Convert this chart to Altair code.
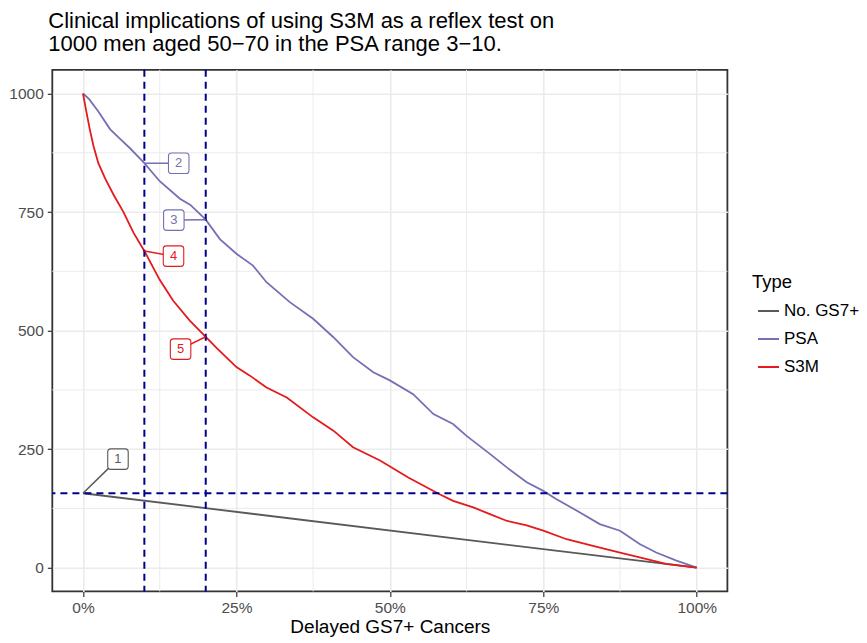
import altair as alt
import pandas as pd

# ---- data ----
types = ["No. GS7+", "PSA", "S3M"]
type_colors = ["#595959", "#7570B3", "#E41A1C"]

gs7_pct = [0, 100]
gs7_n = [157, 0]

psa_pct = [0, 1, 2.5, 4.4, 6, 7.7, 10, 12.5, 15.8, 17.5, 20, 22.3, 25, 27.7, 29.9, 33.7,
           37.5, 40.8, 44, 47.3, 50, 53.8, 57.1, 60.3, 62.5, 66.3, 69, 72.3, 75, 77.1,
           80.9, 84.2, 87.5, 90.7, 93.4, 96.7, 100]
psa_n = [1000, 988, 962, 925, 905, 884, 853, 815, 778, 765, 734, 693, 662, 637, 602, 560,
         525, 486, 444, 412, 395, 366, 324, 303, 278, 240, 212, 180, 162, 145,
         117, 92, 78, 50, 32, 15, 0]

s3m_pct = [0, 0.5, 1.1, 1.7, 2.5, 3.6, 5, 6.6, 8.2, 10, 12.5, 14.7, 17.4, 20, 21.8, 25, 27.2,
           29.9, 33.2, 37.5, 40.8, 44, 48.4, 53, 58.1, 60.3, 63.6, 66.3, 69, 72.3, 75,
           78.8, 83.1, 87.5, 90.7, 95, 100]
s3m_n = [1000, 965, 925, 890, 853, 821, 786, 750, 707, 668, 607, 563, 521, 487, 463, 423, 405,
         380, 359, 317, 289, 254, 226, 190, 155, 141, 127, 113, 99, 89, 78,
         60, 46, 32, 22, 8, 0]

vline_pct = [10, 20]
hline_n = [157]

x_ticks = [0, 25, 50, 75, 100]
y_ticks = [0, 250, 500, 750, 1000]
x_minor = [12.5, 37.5, 62.5, 87.5]
y_minor = [125, 375, 625, 875]

lab_text = ["1", "2", "3", "4", "5"]
lab_type = ["No. GS7+", "PSA", "PSA", "S3M", "S3M"]
lab_pt_pct = [0, 10, 20, 10, 20]
lab_pt_n = [157, 853, 734, 668, 487]
lab_pct = [5.7, 15.6, 14.8, 14.75, 15.9]
lab_n = [229, 853, 733, 657, 461]

title_lines = ["Clinical implications of using S3M as a reflex test on",
               "1000 men aged 50\u221270 in the PSA range 3\u221210."]

FONT = "Liberation Sans"

# ---- tables ----
rows = []
for t, xs_, ys_ in [("No. GS7+", gs7_pct, gs7_n), ("PSA", psa_pct, psa_n), ("S3M", s3m_pct, s3m_n)]:
    for a, b in zip(xs_, ys_):
        rows.append({"pct": a, "n": b, "Type": t})
lines_df = pd.DataFrame(rows)

labels_df = pd.DataFrame({
    "text": lab_text, "Type": lab_type,
    "px": lab_pt_pct, "py": lab_pt_n, "lx": lab_pct, "ly": lab_n,
})

xs = alt.Scale(domain=[-5, 105], nice=False, zero=False)
ys = alt.Scale(domain=[-50, 1050], nice=False, zero=False)
x_axis = alt.Axis(values=x_ticks, labelExpr="datum.value + '%'", title="Delayed GS7+ Cancers")
y_axis = alt.Axis(values=y_ticks, format="d", title=None)

def X(f):
    return alt.X(f, type="quantitative", scale=xs, axis=x_axis)

def Y(f):
    return alt.Y(f, type="quantitative", scale=ys, axis=y_axis)

minor_x = alt.Chart(pd.DataFrame({"pct": x_minor})).mark_rule(
    color="#EBEBEB", strokeWidth=1.0).encode(x=X("pct"))
minor_y = alt.Chart(pd.DataFrame({"n": y_minor})).mark_rule(
    color="#EBEBEB", strokeWidth=1.0).encode(y=Y("n"))

lines = alt.Chart(lines_df).mark_line(strokeWidth=1.8).encode(
    x=X("pct"), y=Y("n"),
    color=alt.Color("Type:N", scale=alt.Scale(domain=types, range=type_colors),
                    legend=alt.Legend(title="Type", orient="none", legendX=699.7, legendY=202.8)),
)

vlines = alt.Chart(pd.DataFrame({"pct": vline_pct})).mark_rule(
    color="#00008B", strokeWidth=2, strokeDash=[7, 5]).encode(x=X("pct"))
hlines = alt.Chart(pd.DataFrame({"n": hline_n})).mark_rule(
    color="#00008B", strokeWidth=2, strokeDash=[7, 5]).encode(y=Y("n"))

box_path = ("M -0.7 -1 L 0.7 -1 Q 1 -1 1 -0.7 L 1 0.7 Q 1 1 0.7 1 L -0.7 1 "
            "Q -1 1 -1 0.7 L -1 -0.7 Q -1 -1 -0.7 -1 Z")

label_layers = []
for t, c in zip(types, type_colors):
    d = labels_df[labels_df["Type"] == t]
    base = alt.Chart(d)
    seg = base.mark_rule(color=c, strokeWidth=1.5).encode(
        x=X("px"), y=Y("py"), x2="lx", y2="ly")
    box = base.mark_point(shape=box_path, size=420, filled=True, fill="white",
                          stroke=c, strokeWidth=1.1, opacity=1).encode(x=X("lx"), y=Y("ly"))
    txt = base.mark_text(font=FONT, fontSize=13, color=c, align="center",
                         baseline="middle").encode(x=X("lx"), y=Y("ly"), text="text:N")
    label_layers += [seg, box, txt]

chart = alt.layer(minor_x, minor_y, lines, vlines, hlines, *label_layers).properties(
    width=675.1, height=521.6,
    autosize=alt.AutoSizeParams(type="none"),
    padding={"left": 44.3, "top": 61.8, "right": 131.6, "bottom": 46},
    title=alt.TitleParams(text=title_lines, anchor="start", frame="group", fontSize=22,
                          fontWeight="normal", color="black", font=FONT, lineHeight=23,
                          baseline="top", offset=13, dx=-4),
).configure_view(
    stroke="#333333", strokeWidth=1.8
).configure_axis(
    labelFont=FONT, labelFontSize=15.5, labelColor="#4D4D4D", labelPadding=4,
    tickColor="#333333", tickSize=5, tickWidth=1.2, domain=False,
    grid=True, gridColor="#EBEBEB", gridWidth=1.6,
    titleFont=FONT, titleFontSize=19, titleFontWeight="normal", titleColor="black",
).configure_axisX(
    titleY=41, titleBaseline="alphabetic"
).configure_legend(
    padding=0, titleFont=FONT, titleFontSize=18.5, titleFontWeight="normal", titleColor="black",
    labelFont=FONT, labelFontSize=17, labelColor="black", symbolType="stroke",
    symbolSize=441, symbolStrokeWidth=2, rowPadding=8, titlePadding=8.4,
    labelOffset=4, symbolOffset=5,
)

chart.save("out.html", embed_options={"renderer": "svg", "actions": False})
